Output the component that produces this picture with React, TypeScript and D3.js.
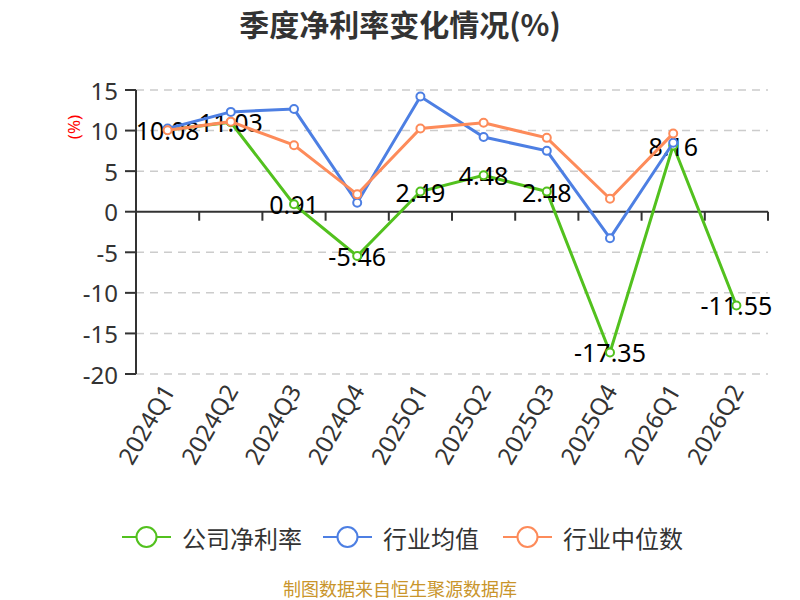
import React from "react";
import * as d3 from "d3";

const quarters = ["2024Q1", "2024Q2", "2024Q3", "2024Q4", "2025Q1", "2025Q2", "2025Q3", "2025Q4", "2026Q1", "2026Q2"];
const companyMargin = [10.08, 11.03, 0.91, -5.46, 2.49, 4.48, 2.48, -17.35, 8.16, -11.55];
const industryMean = [10.26, 12.3, 12.65, 1.1, 14.2, 9.2, 7.5, -3.26, 8.5, null];
const industryMedian = [10.05, 11.1, 8.2, 2.14, 10.26, 10.96, 9.1, 1.6, 9.65, null];
const yTicks = [15, 10, 5, 0, -5, -10, -15, -20];

const seriesNames = ["公司净利率", "行业均值", "行业中位数"];
const colors = ["#52c11e", "#4d7fe3", "#fd8b5a"];

const font = '"Noto Sans", "Noto Sans CJK SC", sans-serif';
const cjk = '"Noto Sans CJK SC", "Noto Sans", sans-serif';

export default function App() {
  const W = 800;
  const H = 600;
  const left = 136;
  const right = 768;

  const x = d3.scaleBand<string>().domain(quarters).range([left, right]);
  const y = d3.scaleLinear().domain([-20, 15]).range([374, 90]);
  const cx = (q: string) => (x(q) as number) + x.bandwidth() / 2;

  const line = d3
    .line<number | null>()
    .defined((d) => d != null)
    .x((_, i) => cx(quarters[i]))
    .y((d) => y(d as number));

  const allSeries = [companyMargin, industryMean, industryMedian];

  // labels sit under the later series, so draw them with the first one
  const drawSeries = (vals: (number | null)[], k: number) => (
    <g key={k}>
      <path d={line(vals) || ""} fill="none" stroke={colors[k]} strokeWidth={3} />
      {k === 0 &&
        vals.map((v, i) =>
          v == null ? null : (
            <text
              key={"l" + i}
              x={cx(quarters[i])}
              y={y(v)}
              textAnchor="middle"
              dominantBaseline="central"
              fontSize={25}
              fill="#000"
              fontFamily={font}
            >
              {v.toFixed(2)}
            </text>
          )
        )}
      {vals.map((v, i) =>
        v == null ? null : (
          <circle key={"c" + i} cx={cx(quarters[i])} cy={y(v)} r={4} fill="#fff" stroke={colors[k]} strokeWidth={2} />
        )
      )}
    </g>
  );

  const legendX = [122, 323, 503];

  return (
    <svg width={W} height={H} style={{ position: "absolute", left: 0, top: 0, background: "#fff" }}>
      <text x={400} y={23} textAnchor="middle" dominantBaseline="central" fontSize={30} fontWeight="bold" fill="#333" fontFamily={cjk}>
        季度净利率变化情况(%)
      </text>

      {/* grid */}
      {yTicks.map((t) => (
        <g key={t}>
          {t !== 0 && (
            <line x1={left} x2={right} y1={y(t)} y2={y(t)} stroke="#ccc" strokeWidth={1.5} strokeDasharray="8,6" />
          )}
          <line x1={left - 11} x2={left} y1={y(t)} y2={y(t)} stroke="#333" strokeWidth={2} />
          <text x={left - 18} y={y(t)} textAnchor="end" dominantBaseline="central" fontSize={24} fill="#333" fontFamily={font}>
            {t}
          </text>
        </g>
      ))}
      <line x1={left} x2={left} y1={y(-20)} y2={y(15)} stroke="#333" strokeWidth={2} />
      <text
        transform={`translate(73,127) rotate(-90)`}
        textAnchor="middle"
        dominantBaseline="central"
        fontSize={17}
        fill="#f00"
        fontFamily={font}
      >
        (%)
      </text>

      {/* x axis at zero */}
      <line x1={left} x2={right} y1={y(0)} y2={y(0)} stroke="#333" strokeWidth={2} />
      {d3.range(quarters.length + 1).map((i) => {
        const tx = left + i * x.step();
        return <line key={i} x1={tx} x2={tx} y1={y(0)} y2={y(0) + 9} stroke="#333" strokeWidth={2} />;
      })}
      {quarters.map((q) => (
        <text
          key={q}
          transform={`translate(${cx(q)},${y(-20) + 12}) rotate(-60)`}
          textAnchor="end"
          dominantBaseline="central"
          fontSize={24}
          fill="#333"
          fontFamily={font}
        >
          {q}
        </text>
      ))}

      {allSeries.map((s, k) => drawSeries(s, k))}

      {/* legend */}
      {seriesNames.map((n, k) => (
        <g key={n}>
          <line x1={legendX[k]} x2={legendX[k] + 49} y1={537} y2={537} stroke={colors[k]} strokeWidth={2} />
          <circle cx={legendX[k] + 24.5} cy={537} r={10} fill="#fff" stroke={colors[k]} strokeWidth={2} />
          <text x={legendX[k] + 60} y={537} dominantBaseline="central" fontSize={24} fill="#333" fontFamily={cjk}>
            {n}
          </text>
        </g>
      ))}

      <text x={400} y={588} textAnchor="middle" dominantBaseline="central" fontSize={18} fill="#c9952b" fontFamily={cjk}>
        制图数据来自恒生聚源数据库
      </text>
    </svg>
  );
}
